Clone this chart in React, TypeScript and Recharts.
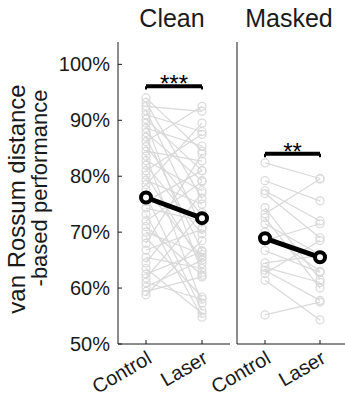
import { LineChart, Line, XAxis, YAxis, ReferenceLine } from "recharts";

const conditions = ["Control", "Laser"];

// paired sessions (percent)
const cleanControl = [
  94, 93.2, 92.5, 91.8, 91, 90.2, 89.5, 88.6, 87.8, 87, 86.2, 85.3, 84.5, 83.6,
  82.8, 82, 81, 80.2, 79.3, 78.5, 77.6, 76.5, 75.5, 74.3, 73.2, 72, 71, 70, 69,
  68, 66.8, 65.5, 64.5, 63.5, 62.5, 61.8, 61, 60.2, 59.4, 58.8,
];
const cleanLaser = [
  84.5, 76, 91.6, 70.8, 88, 81, 62.8, 85.4, 79.2, 66.7, 92.5, 73, 82.7, 57.3,
  77.4, 69.7, 87.5, 64.4, 75, 89.5, 65.5, 56, 81, 72, 54.8, 79, 62.3, 66, 58.4,
  84, 70.5, 63.5, 77, 55.5, 66.5, 73.5, 58, 65, 62, 68.5,
];
const maskedControl = [
  82.4, 79.2, 77.4, 76.9, 74.4, 73.3, 72.6, 71.5, 70, 68.5, 66.7, 63.7, 63.2,
  62.6, 61.4, 55.2, 64.5,
];
const maskedLaser = [
  79.6, 75.6, 72, 69, 61.5, 79.5, 60, 66, 63, 71.5, 62.8, 61, 57.8, 68.5, 54.3,
  57.5, 65.8,
];
const cleanMean = [76.2, 72.5];
const maskedMean = [68.9, 65.5];
const cleanSig = 96.1;
const maskedSig = 84;
const yTicks = [50, 60, 70, 80, 90, 100];

const FONT = "'Liberation Sans', Arial, sans-serif";
const INK = "#1a1a1a";
const GRAY = "#d9d9d9";

function buildRows(ctrl: number[], laser: number[], mean: number[]) {
  return conditions.map((c, i) => {
    const row: Record<string, any> = { cond: c, mean: mean[i] };
    ctrl.forEach((v, j) => {
      row["s" + j] = i === 0 ? v : laser[j];
    });
    return row;
  });
}

const cleanRows = buildRows(cleanControl, cleanLaser, cleanMean);
const maskedRows = buildRows(maskedControl, maskedLaser, maskedMean);

const XTick = (props: any) => {
  const { x, y, payload } = props;
  const ax = x + 7;
  const ay = y + 18;
  return (
    <text
      x={ax}
      y={ay}
      transform={`rotate(-30, ${ax}, ${ay})`}
      textAnchor="end"
      fontSize={20}
      fontFamily={FONT}
      fill={INK}
    >
      {payload.value}
    </text>
  );
};

const YLabel = () => (
  <g fontFamily={FONT} fill={INK}>
    <text
      x={25}
      y={199}
      fontSize={24}
      transform="rotate(-90, 25, 199)"
      textAnchor="middle"
    >
      van Rossum distance
    </text>
    <text
      x={47}
      y={188}
      fontSize={22}
      transform="rotate(-90, 47, 188)"
      textAnchor="middle"
    >
      -based performance
    </text>
  </g>
);

function Panel(props: {
  rows: any[];
  n: number;
  sig: number;
  stars: string;
  width: number;
  yWidth: number;
  showLabels: boolean;
  padRight: number;
}) {
  const { rows, n, sig, stars, width, yWidth, showLabels, padRight } = props;
  return (
    <LineChart
      width={width}
      height={402}
      data={rows}
      margin={{ top: 42, right: 0, bottom: 0, left: 0 }}
    >
      <XAxis
        dataKey="cond"
        height={58}
        padding={{ left: 28, right: padRight }}
        tick={<XTick />}
        tickSize={-4}
        tickMargin={4}
        axisLine={{ stroke: INK }}
        tickLine={{ stroke: INK }}
        interval={0}
      />
      <YAxis
        type="number"
        domain={[50, 104]}
        ticks={yTicks}
        width={yWidth}
        tickSize={-4}
        tickMargin={12}
        tickFormatter={(v) => v + "%"}
        tick={showLabels ? { fontSize: 20, fill: INK, fontFamily: FONT } : false}
        axisLine={{ stroke: INK }}
        tickLine={{ stroke: INK }}
        label={showLabels ? <YLabel /> : undefined}
      />
      {Array.from({ length: n }, (_, j) => (
        <Line
          key={j}
          dataKey={"s" + j}
          stroke={GRAY}
          strokeWidth={1.2}
          dot={{ r: 4, stroke: GRAY, strokeWidth: 1.2, fill: "none" }}
          isAnimationActive={false}
        />
      ))}
      <ReferenceLine
        segment={[
          { x: "Control", y: sig },
          { x: "Control", y: sig - 0.6 },
        ]}
        stroke="#000"
        strokeWidth={2}
      />
      <ReferenceLine
        segment={[
          { x: "Laser", y: sig },
          { x: "Laser", y: sig - 0.6 },
        ]}
        stroke="#000"
        strokeWidth={2}
      />
      <ReferenceLine
        segment={[
          { x: "Control", y: sig },
          { x: "Laser", y: sig },
        ]}
        stroke="#000"
        strokeWidth={4}
        label={{
          value: stars,
          position: "top",
          offset: -6,
          fontSize: 24,
          fill: "#000",
          fontFamily: FONT,
        }}
      />
      <Line
        dataKey="mean"
        stroke="#000"
        strokeWidth={5}
        dot={{ r: 5, stroke: "#000", strokeWidth: 4, fill: "#fff" }}
        isAnimationActive={false}
      />
    </LineChart>
  );
}

export default function App() {
  return (
    <div
      style={{
        position: "absolute",
        left: 0,
        top: 0,
        width: 345,
        height: 402,
        background: "#fff",
        fontFamily: FONT,
      }}
    >
      <div
        style={{
          position: "absolute",
          left: 116,
          width: 112,
          top: 4,
          textAlign: "center",
          fontSize: 25,
          color: INK,
        }}
      >
        Clean
      </div>
      <div
        style={{
          position: "absolute",
          left: 235,
          width: 108,
          top: 4,
          textAlign: "center",
          fontSize: 25,
          color: INK,
        }}
      >
        Masked
      </div>
      <div style={{ position: "absolute", left: 0, top: 0 }}>
        <Panel
          rows={cleanRows}
          n={cleanControl.length}
          sig={cleanSig}
          stars="***"
          width={230}
          yWidth={118}
          showLabels={true}
          padRight={28}
        />
      </div>
      <div style={{ position: "absolute", left: 130, top: 0 }}>
        <Panel
          rows={maskedRows}
          n={maskedControl.length}
          sig={maskedSig}
          stars="**"
          width={215}
          yWidth={107}
          showLabels={false}
          padRight={25}
        />
      </div>
    </div>
  );
}
